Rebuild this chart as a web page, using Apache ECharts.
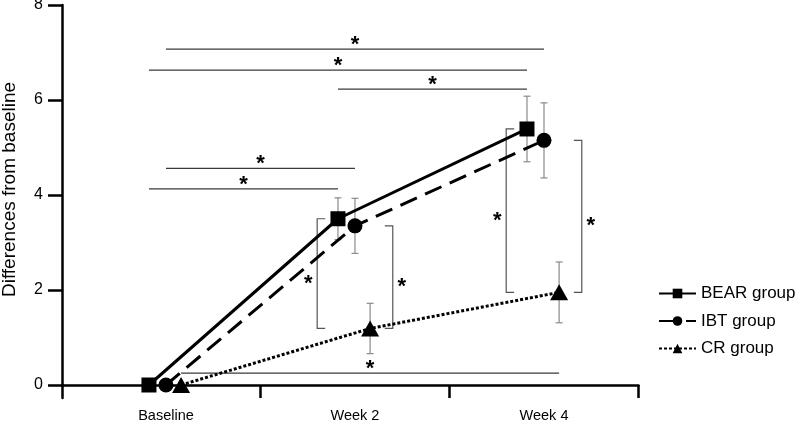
<!DOCTYPE html>
<html><head><meta charset="utf-8">
<script src="https://cdn.jsdelivr.net/npm/echarts@6/dist/echarts.min.js"></script>
<style>html,body{margin:0;padding:0;background:#fff}#c{width:797px;height:421px}</style>
</head><body><div id="c"></div>
<script>
const categories = ['Baseline', 'Week 2', 'Week 4'];
const seriesNames = ['BEAR group', 'IBT group', 'CR group'];
const bearMean = [0, 3.50, 5.39];
const bearSD   = [0, 0.44, 0.69];
const ibtMean  = [0, 3.35, 5.15];
const ibtSD    = [0, 0.58, 0.79];
const crMean   = [0, 1.19, 1.95];
const crSD     = [0, 0.53, 0.64];
const yTicks = [0, 2, 4, 6, 8];
// within-group comparisons across time: [series, fromCategory, toCategory, bar height]
const sigAcrossTime = [
  [1, 0, 2, 7.07],
  [0, 0, 2, 6.63],
  [0, 1, 2, 6.23],
  [1, 0, 1, 4.56],
  [0, 0, 1, 4.13],
  [2, 0, 2, 0.25]
];
// between-group comparisons at one time point: [category, upper series, lower series, side]
const sigBetweenGroups = [
  [1, 0, 2, -1],
  [1, 1, 2, 1],
  [2, 0, 2, -1],
  [2, 1, 2, 1]
];

const means = [bearMean, ibtMean, crMean];
const sds = [bearSD, ibtSD, crSD];
const dodge = [-0.09, 0, 0.08];
const bracketOffset = 0.2;
const symbols = ['rect', 'circle', 'triangle'];
const symbolSizes = [15, 15, [18, 16]];
const lineTypes = ['solid', [18, 9], [3, 2]];
const FONT = '"Liberation Sans", Arial, Helvetica, sans-serif';

const lineSeries = means.map((m, s) => ({
  name: seriesNames[s],
  type: 'line',
  data: m.map((v, c) => [c + dodge[s], v]),
  symbol: symbols[s],
  symbolSize: symbolSizes[s],
  z: 5 - s,
  lineStyle: { color: '#000', width: 3, type: lineTypes[s] },
  itemStyle: { color: '#000' },
  emphasis: { disabled: true }
}));

const errData = [];
means.forEach((m, s) => m.forEach((v, c) => {
  if (sds[s][c] > 0) errData.push([c + dodge[s], v - sds[s][c], v + sds[s][c]]);
}));

const errSeries = {
  type: 'custom',
  z: 1,
  data: errData,
  encode: { x: 0, y: [1, 2] },
  renderItem: function (params, api) {
    const lo = api.coord([api.value(0), api.value(1)]);
    const hi = api.coord([api.value(0), api.value(2)]);
    const w = 3.5;
    const st = { stroke: '#8a8a8a', lineWidth: 1.2, fill: null };
    return { type: 'group', children: [
      { type: 'line', shape: { x1: lo[0], y1: lo[1], x2: hi[0], y2: hi[1] }, style: st },
      { type: 'line', shape: { x1: lo[0] - w, y1: lo[1], x2: lo[0] + w, y2: lo[1] }, style: st },
      { type: 'line', shape: { x1: hi[0] - w, y1: hi[1], x2: hi[0] + w, y2: hi[1] }, style: st }
    ]};
  }
};

const starStyle = { text: '*', fontSize: 22, fontWeight: 'bold', fontFamily: FONT, fill: '#000', align: 'center', verticalAlign: 'middle' };

const acrossSeries = {
  type: 'custom',
  z: 2,
  data: sigAcrossTime.map(([s, c1, c2, h]) => [c1 + dodge[s], c2 + dodge[s], h]),
  encode: { x: [0, 1], y: 2 },
  renderItem: function (params, api) {
    const a = api.coord([api.value(0), api.value(2)]);
    const b = api.coord([api.value(1), api.value(2)]);
    return { type: 'group', children: [
      { type: 'line', shape: { x1: a[0], y1: a[1], x2: b[0], y2: b[1] }, style: { stroke: '#3a3a3a', lineWidth: 1.3 } },
      { type: 'text', x: (a[0] + b[0]) / 2, y: a[1] - 4, style: Object.assign({}, starStyle) }
    ]};
  }
};

const betweenSeries = {
  type: 'custom',
  z: 2,
  data: sigBetweenGroups.map(([c, a, b, side]) => [c + side * bracketOffset, means[a][c], means[b][c], side]),
  encode: { x: 0, y: [1, 2] },
  renderItem: function (params, api) {
    const side = api.value(3);
    const p1 = api.coord([api.value(0), api.value(1)]);
    const p2 = api.coord([api.value(0), api.value(2)]);
    const cap = -side * 8;
    return { type: 'group', children: [
      { type: 'polyline', shape: { points: [[p1[0] + cap, p1[1]], [p1[0], p1[1]], [p2[0], p2[1]], [p2[0] + cap, p2[1]]] },
        style: { stroke: '#555', lineWidth: 1.2, fill: null } },
      { type: 'text', x: p1[0] + side * 9, y: (p1[1] + p2[1]) / 2 + 10, style: Object.assign({}, starStyle) }
    ]};
  }
};

const chart = echarts.init(document.getElementById('c'), null, { renderer: 'canvas' });
chart.setOption({
  animation: false,
  backgroundColor: '#fff',
  textStyle: { fontFamily: FONT },
  grid: { left: 62, right: 158.5, top: 5, bottom: 23, containLabel: false, outerBoundsMode: 'none' },
  legend: {
    data: seriesNames,
    orient: 'vertical',
    left: 653,
    top: 280,
    itemWidth: 37,
    itemHeight: 12,
    itemGap: 10.5,
    textStyle: { fontSize: 17, color: '#000', fontFamily: FONT },
    selectedMode: false
  },
  xAxis: {
    type: 'value',
    min: -0.55,
    max: 2.5,
    splitLine: { show: false },
    axisLine: { onZero: true, lineStyle: { color: '#000', width: 2.5 } },
    axisTick: { show: true, length: 13, customValues: [0.5, 1.5, 2.5], lineStyle: { color: '#000', width: 2.5 } },
    axisLabel: {
      customValues: [0, 1, 2],
      formatter: v => categories[Math.round(v)],
      margin: 10,
      fontSize: 14.5,
      color: '#000',
      fontFamily: FONT
    }
  },
  yAxis: {
    type: 'value',
    min: -0.2737,
    max: 8,
    name: 'Differences from baseline',
    nameLocation: 'middle',
    nameGap: 43,
    nameTextStyle: { fontSize: 19, color: '#000', fontFamily: FONT, padding: [0, 0, 0, 24] },
    splitLine: { show: false },
    axisLine: { show: true, onZero: false, lineStyle: { color: '#000', width: 2.5 } },
    axisTick: { show: true, length: 14, customValues: yTicks, lineStyle: { color: '#000', width: 2.5 } },
    axisLabel: { customValues: yTicks, margin: 19, fontSize: 16, color: '#000', fontFamily: FONT }
  },
  series: [errSeries, acrossSeries, betweenSeries].concat(lineSeries)
});
</script>
</body></html>
